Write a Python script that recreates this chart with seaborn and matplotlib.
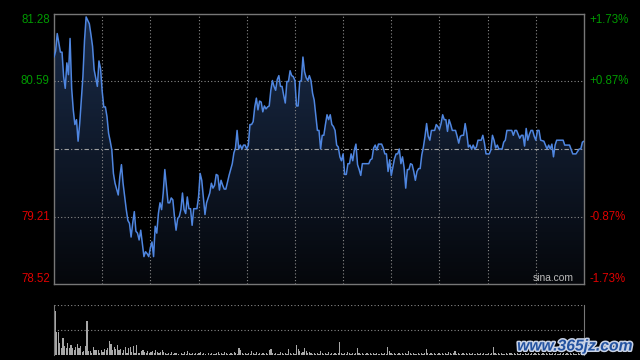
import matplotlib
matplotlib.use("Agg")
import matplotlib.pyplot as plt
import matplotlib.patheffects as pe
from matplotlib.colors import LinearSegmentedColormap
import numpy as np
import pandas as pd
import seaborn as sns

# intraday session (HK market, 330 trading minutes)
prev_close = 79.90
session_minutes = 330
grid_minutes = [30, 60, 90, 120, 150, 180, 210, 240, 270, 300]

minutes = [
    0, 1, 2, 4, 5, 6, 7, 8, 9, 10, 11, 12, 13, 14, 15, 16, 18, 19, 20, 22,
    23, 24, 25, 27, 28, 29, 30, 31, 32, 33, 34, 35, 36, 37, 38, 40, 41, 42, 43, 45,
    46, 47, 48, 49, 50, 51, 52, 53, 54, 56, 57, 58, 59, 60, 61, 62, 63, 64, 65, 66,
    67, 68, 69, 70, 71, 72, 73, 74, 75, 76, 77, 78, 79, 80, 81, 82, 83, 84, 85, 86,
    87, 89, 90, 91, 92, 93, 94, 95, 97, 98, 99, 100, 101, 102, 103, 104, 105, 106, 107, 109,
    111, 112, 113, 114, 115, 116, 117, 118, 119, 120, 121, 122, 123, 124, 125, 126, 127, 128, 129, 130,
    131, 132, 133, 134, 135, 136, 137, 138, 139, 140, 141, 142, 143, 144, 145, 146, 147, 148, 149, 150,
    151, 152, 153, 154, 155, 156, 157, 158, 159, 160, 161, 162, 164, 165, 166, 167, 168, 169, 170, 171,
    172, 173, 174, 175, 176, 177, 178, 179, 180, 181, 182, 183, 184, 185, 186, 187, 188, 189, 190, 191,
    192, 193, 196, 197, 198, 199, 200, 201, 202, 204, 205, 206, 207, 208, 209, 210, 212, 213, 214, 215,
    216, 217, 218, 219, 220, 221, 222, 223, 224, 225, 226, 227, 228, 229, 230, 231, 232, 233, 234, 235,
    237, 238, 239, 240, 241, 242, 243, 244, 245, 246, 247, 248, 250, 251, 252, 253, 254, 255, 256, 257,
    258, 259, 260, 261, 262, 263, 264, 266, 267, 268, 269, 271, 272, 273, 274, 275, 276, 277, 279, 280,
    281, 282, 285, 286, 287, 288, 290, 291, 292, 293, 294, 295, 296, 297, 298, 299, 300, 301, 302, 303,
    305, 306, 307, 308, 309, 310, 311, 312, 313, 315, 317, 318, 321, 323, 325, 327, 328, 329, 330,
]
prices = [
    80.84, 80.90, 81.08, 80.89, 80.89, 80.64, 80.52, 80.78, 80.66, 81.03, 80.52, 80.30, 80.15, 80.20, 79.98, 80.16, 80.64, 81.01, 81.25, 81.18,
    81.07, 80.95, 80.71, 80.54, 80.80, 80.72, 80.49, 80.33, 80.33, 80.23, 80.06, 79.98, 79.89, 79.65, 79.55, 79.43, 79.62, 79.74, 79.55, 79.28,
    79.17, 79.14, 79.00, 79.14, 79.26, 79.06, 79.04, 78.97, 79.07, 78.80, 78.85, 78.83, 78.80, 78.89, 78.95, 78.80, 79.11, 79.04, 79.24, 79.35,
    79.28, 79.45, 79.69, 79.52, 79.35, 79.35, 79.40, 79.38, 79.21, 79.07, 79.19, 79.21, 79.28, 79.45, 79.28, 79.24, 79.41, 79.29, 79.29, 79.12,
    79.29, 79.29, 79.41, 79.65, 79.58, 79.41, 79.23, 79.35, 79.45, 79.55, 79.50, 79.53, 79.64, 79.63, 79.48, 79.58, 79.53, 79.49, 79.49, 79.63,
    79.75, 79.86, 79.91, 80.09, 79.90, 79.94, 79.90, 79.94, 79.94, 79.90, 79.94, 80.15, 80.15, 80.18, 80.33, 80.42, 80.30, 80.39, 80.38, 80.28,
    80.34, 80.31, 80.33, 80.34, 80.50, 80.60, 80.54, 80.50, 80.61, 80.65, 80.54, 80.54, 80.45, 80.37, 80.59, 80.59, 80.70, 80.65, 80.64, 80.60,
    80.34, 80.34, 80.59, 80.60, 80.84, 80.69, 80.63, 80.60, 80.65, 80.60, 80.47, 80.40, 80.09, 80.09, 79.90, 80.04, 80.04, 80.15, 80.25, 80.20,
    80.25, 80.15, 80.13, 80.09, 79.94, 79.92, 79.82, 79.78, 79.85, 79.64, 79.64, 79.75, 79.75, 79.85, 79.78, 79.89, 79.95, 79.74, 79.69, 79.63,
    79.75, 79.75, 79.75, 79.79, 79.80, 79.91, 79.94, 79.89, 79.95, 79.95, 79.91, 79.85, 79.85, 79.67, 79.79, 79.63, 79.80, 79.85, 79.85, 79.90,
    79.75, 79.82, 79.71, 79.50, 79.69, 79.69, 79.75, 79.74, 79.67, 79.58, 79.67, 79.70, 79.70, 79.84, 79.92, 80.03, 80.16, 80.03, 79.99, 80.09,
    80.09, 80.15, 80.13, 80.10, 80.16, 80.25, 80.20, 80.20, 80.08, 80.20, 80.15, 80.09, 80.09, 80.03, 79.96, 80.03, 80.04, 80.04, 80.16, 80.06,
    79.92, 79.94, 79.90, 79.94, 79.90, 79.92, 79.99, 79.99, 80.04, 79.96, 79.85, 79.85, 79.89, 80.04, 79.99, 79.91, 79.94, 79.90, 79.90, 79.97,
    79.99, 80.09, 80.09, 80.04, 80.09, 80.09, 80.01, 80.04, 80.04, 79.93, 80.11, 79.99, 80.05, 80.09, 80.09, 80.03, 79.99, 80.09, 80.09, 79.99,
    79.98, 79.94, 79.90, 79.94, 79.90, 79.95, 79.82, 79.94, 79.99, 79.99, 79.99, 79.94, 79.94, 79.85, 79.85, 79.90, 79.90, 79.97, 79.98,
]

# per-minute volume (thousand shares), minute 0..330
volume = [
    44, 23, 23, 12, 7, 17, 9, 7, 12, 7,
    10, 7, 5, 8, 11, 7, 9, 3, 4, 9,
    34, 4, 4, 2, 8, 5, 5, 5, 2, 5,
    3, 6, 5, 7, 14, 11, 5, 8, 6, 10,
    5, 6, 2, 5, 8, 2, 7, 8, 3, 9,
    2, 10, 2, 2, 4, 5, 3, 2, 4, 2,
    3, 4, 2, 5, 3, 2, 3, 5, 3, 2,
    1, 2, 1, 3, 1, 2, 2, 1, 0, 2,
    1, 3, 1, 4, 2, 1, 2, 1, 2, 1,
    2, 3, 1, 2, 1, 0, 2, 1, 2, 1,
    1, 2, 3, 1, 2, 1, 3, 2, 1, 1,
    2, 1, 3, 2, 1, 7, 5, 2, 1, 2,
    1, 2, 1, 4, 2, 1, 3, 1, 2, 1,
    2, 1, 2, 1, 5, 6, 2, 1, 2, 1,
    1, 3, 2, 1, 2, 1, 6, 2, 1, 2,
    1, 10, 6, 4, 2, 3, 7, 4, 2, 3,
    2, 1, 2, 1, 2, 1, 4, 2, 1, 2,
    1, 3, 1, 2, 1, 2, 1, 2, 13, 2,
    1, 2, 1, 3, 2, 1, 2, 1, 2, 7,
    2, 1, 2, 1, 1, 2, 1, 2, 1, 2,
    1, 2, 1, 1, 2, 1, 2, 1, 8, 4,
    2, 1, 2, 1, 1, 2, 1, 2, 1, 2,
    1, 4, 2, 1, 2, 1, 1, 2, 1, 2,
    1, 2, 6, 2, 1, 2, 1, 2, 1, 1,
    2, 1, 2, 1, 2, 1, 3, 2, 1, 2,
    4, 1, 2, 1, 1, 2, 1, 2, 1, 2,
    1, 2, 1, 1, 2, 1, 2, 1, 2, 1,
    1, 2, 1, 2, 8, 2, 1, 2, 1, 2,
    1, 1, 2, 1, 2, 2, 1, 2, 1, 2,
    1, 2, 1, 1, 2, 1, 2, 1, 2, 1,
    2, 1, 2, 1, 1, 2, 1, 2, 1, 2,
    1, 2, 1, 2, 1, 1, 2, 1, 2, 1,
    2, 1, 2, 1, 2, 1, 1, 2, 1, 2, 3,
]
volume_max = 50

price_ticks = [81.28, 80.59, 79.21, 78.52]
price_labels = ["81.28", "80.59", "79.21", "78.52"]
pct_labels = ["+1.73%", "+0.87%", "-0.87%", "-1.73%"]
label_colors = ["#009900", "#009900", "#e00000", "#e00000"]

sns.set_style("dark", rc={"axes.facecolor": "black", "figure.facecolor": "black"})
plt.rcParams["font.family"] = ["Liberation Sans", "DejaVu Sans"]

price_df = pd.DataFrame({"minute": minutes, "price": prices})
vol_df = pd.DataFrame({"minute": range(len(volume)), "volume": volume})

fig = plt.figure(figsize=(6.4, 3.6), dpi=100, facecolor="black")
ax = fig.add_axes([54 / 640, 76 / 360, 530 / 640, 270 / 360])
axv = fig.add_axes([54 / 640, 5 / 360, 530 / 640, 50 / 360])

y_low, y_high = min(price_ticks), max(price_ticks)

# gradient fill under the price line
poly = ax.fill_between(price_df["minute"], price_df["price"], y_low, facecolor="none", edgecolor="none")
cmap = LinearSegmentedColormap.from_list("fill", ["#05070b", "#1a2c4a"])
grad = np.linspace(1, 0, 256).reshape(-1, 1)
im = ax.imshow(grad, extent=[0, session_minutes, y_low, y_high], aspect="auto", cmap=cmap,
               origin="upper", zorder=1)
im.set_clip_path(poly.get_paths()[0], transform=ax.transData)

sns.lineplot(data=price_df, x="minute", y="price", ax=ax, color="#4f86e0", linewidth=1.1, zorder=4)

for m in grid_minutes:
    ax.axvline(m, color="#8a8a8a", linestyle=(0, (1, 2)), linewidth=0.8, zorder=3)
for p in price_ticks[1:3]:
    ax.axhline(p, color="#8a8a8a", linestyle=(0, (1, 2)), linewidth=0.8, zorder=3)
ax.axhline(prev_close, color="#a0a0a0", linestyle=(0, (4, 2, 1, 2)), linewidth=0.8, zorder=3)

ax.set_xlim(0, session_minutes)
ax.set_ylim(y_low, y_high)
ax.set_xticks([])
ax.set_yticks([])
ax.set_xlabel("")
ax.set_ylabel("")
for s in ax.spines.values():
    s.set_visible(True)
    s.set_color("#777777")
    s.set_linewidth(1)

ytf = ax.get_yaxis_transform()
for i, (p, lab, pct, c) in enumerate(zip(price_ticks, price_labels, pct_labels, label_colors)):
    off = 0
    if i == 0:
        off = -0.06
    elif i == len(price_ticks) - 1:
        off = 0.055
    ax.text(-0.008, p + off, lab, transform=ytf, ha="right", va="center", color=c, fontsize=8.3)
    ax.text(1.011, p + off, pct, transform=ytf, ha="left", va="center", color=c, fontsize=8.3)

ax.text(0.98, 0.005, "sina.com", transform=ax.transAxes, ha="right", va="bottom",
        color="#bbbbbb", fontsize=7.4)

# volume panel
sns.barplot(data=vol_df, x="minute", y="volume", ax=axv, native_scale=True, color="#a8a8a8",
            width=0.75, saturation=1, errorbar=None, edgecolor="none", linewidth=0)
axv.set_xlim(-0.6, session_minutes + 0.6)
axv.set_ylim(0, volume_max)
axv.axhline(volume_max, color="#8a8a8a", linestyle=(0, (1, 2)), linewidth=0.8)
axv.axhline(volume_max / 2, color="#8a8a8a", linestyle=(0, (1, 2)), linewidth=0.8)
axv.set_xticks([])
axv.set_yticks([])
axv.set_xlabel("")
axv.set_ylabel("")
for side, s in axv.spines.items():
    s.set_visible(side in ("left", "right"))
    s.set_color("#777777")

fig.text(575 / 640, 1 - 346 / 360, "www.365jz.com", ha="center", va="center", color="#2352a0",
         fontsize=11.3, fontweight="bold", style="italic",
         path_effects=[pe.withStroke(linewidth=2.2, foreground="#c9d3e6")])

fig.savefig("out.png", dpi=100, facecolor="black")
